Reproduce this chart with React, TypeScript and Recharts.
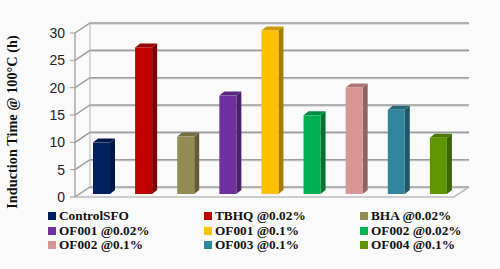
import React from 'react';
import { BarChart, Bar, YAxis, XAxis, CartesianGrid, Legend } from 'recharts';

const categories = [
  'ControlSFO',
  'TBHQ @0.02%',
  'BHA @0.02%',
  'OF001 @0.02%',
  'OF001 @0.1%',
  'OF002 @0.02%',
  'OF002 @0.1%',
  'OF003 @0.1%',
  'OF004 @0.1%',
];
const inductionTime = [9.4, 26.8, 10.5, 18, 29.9, 14.4, 19.5, 15.4, 10.3];
const yTicks = [0, 5, 10, 15, 20, 25, 30];
const frontColors = ['#002060', '#C00000', '#948A54', '#7030A0', '#FFC000', '#00B050', '#D99694', '#31859C', '#5F9600'];
const sideColors = ['#001645', '#7E0000', '#625B37', '#4A2069', '#A87E00', '#007435', '#8F6361', '#205766', '#3E6200'];
const topColors = ['#00194C', '#980000', '#756D42', '#59267F', '#CC9900', '#008C40', '#AD7775', '#276A7C', '#4B7700'];

const data = categories.map((name, i) => ({ name, value: inductionTime[i], idx: i }));

const DX = 15;
const DY = 10;
const GRID = '#9c9c9c';

const Bar3D = (props: any) => {
  const { x, y, width, height, payload } = props;
  const left = x + 5;
  const top = y - 3;
  const right = left + width;
  const bottom = top + height;
  const i = payload.idx;
  return (
    <g>
      <polygon
        points={`${right},${top} ${right + 5},${top - 4} ${right + 5},${bottom - 4} ${right},${bottom}`}
        fill={sideColors[i]}
      />
      <polygon
        points={`${left},${top} ${left + 5},${top - 4} ${right + 5},${top - 4} ${right},${top}`}
        fill={topColors[i]}
      />
      <rect x={left} y={top} width={width} height={height} fill={frontColors[i]} />
    </g>
  );
};

// wall and floor lines of the 3d box, one call per tick
const GridLine = (props: any) => {
  const { x1, x2, y1, index } = props;
  const isFloor = y1 > 190;
  const isTop = y1 < 40;
  return (
    <g key={index} fill="none">
      <path d={`M${x1 + DX},${y1 - DY + 1.2} L${x2 + DX},${y1 - DY + 1.2}`} stroke="#d4d4d4" strokeWidth={1} />
      <path d={`M${x1},${y1} L${x1 + DX},${y1 - DY} L${x2 + DX},${y1 - DY}`} stroke={GRID} strokeWidth={1.5} />
      {isTop && <path d={`M${x1 + DX},${y1 - DY} L${x1 + DX},${y1 + 164 - DY}`} stroke="#b5b5b5" strokeWidth={1} />}
      {isFloor && <path d={`M${x1},${y1} L${x2},${y1} L${x2 + DX},${y1 - DY}`} stroke="#bdbdbd" strokeWidth={1.6} />}
    </g>
  );
};

const legendX = [48, 204, 360];
const legendY = [19, 33.5, 47.5];

const LegendBlock = () => (
  <div style={{ position: 'relative', width: 500, height: 72 }}>
    {categories.map((c, i) => (
      <div
        key={c}
        style={{
          position: 'absolute',
          left: legendX[i % 3],
          top: legendY[Math.floor(i / 3)] - 6,
          height: 12,
          lineHeight: '12px',
          display: 'flex',
          alignItems: 'center',
          whiteSpace: 'nowrap',
          fontFamily: '"Liberation Serif", serif',
          fontWeight: 'bold',
          fontSize: 13.3,
          color: '#111',
        }}
      >
        <span style={{ width: 8, height: 8, background: frontColors[i], marginRight: 3 }} />
        {c}
      </div>
    ))}
  </div>
);

export default function App() {
  return (
    <div style={{ position: 'fixed', left: 0, top: 0, width: 500, height: 269, background: '#fafafa' }}>
      <BarChart
        width={500}
        height={269}
        data={data}
        margin={{ top: 33, right: 46, bottom: 0, left: 30 }}
        barCategoryGap={0}
      >
        <CartesianGrid vertical={false} horizontal={GridLine as any} />
        <XAxis dataKey="name" hide />
        <YAxis
          width={45}
          domain={[0, 30]}
          ticks={yTicks}
          interval={0}
          tickLine={{ stroke: GRID }}
          axisLine={{ stroke: GRID, strokeWidth: 1.3 }}
          tickSize={5}
          tickMargin={5}
          tick={{ fill: '#222', fontSize: 14, fontFamily: '"Liberation Sans", sans-serif' }}
          label={{
            value: 'Induction Time @ 100°C (h)',
            angle: -90,
            position: 'left',
            offset: 18,
            dy: 7,
            style: {
              fontFamily: '"Liberation Serif", serif',
              fontWeight: 'bold',
              fontSize: 14.3,
              fill: '#111',
              textAnchor: 'middle',
            },
          }}
        />
        <Bar dataKey="value" barSize={17} shape={Bar3D} isAnimationActive={false} />
        <Legend content={LegendBlock} verticalAlign="bottom" wrapperStyle={{ left: 0, width: 500, height: 72 }} />
      </BarChart>
    </div>
  );
}
